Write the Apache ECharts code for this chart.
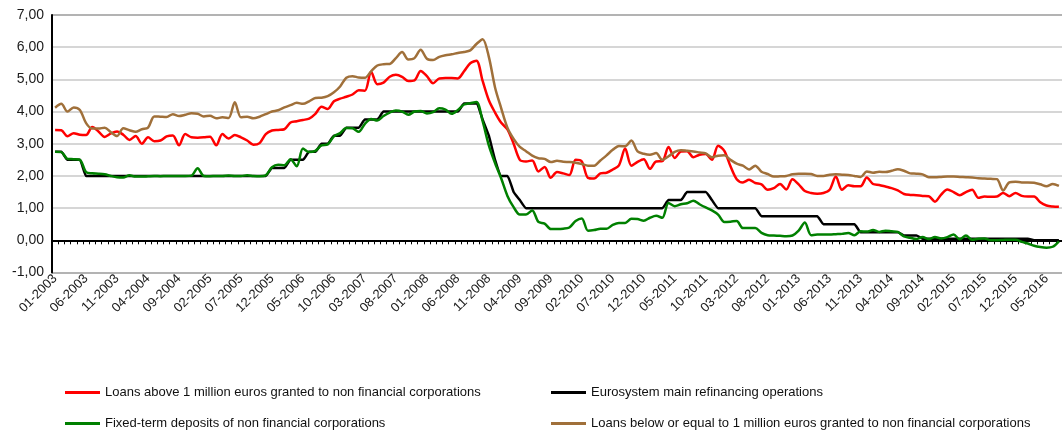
<!DOCTYPE html>
<html>
<head>
<meta charset="utf-8">
<script src="https://cdn.jsdelivr.net/npm/echarts@6/dist/echarts.min.js"></script>
<style>
  html, body { margin: 0; padding: 0; background: #fff; }
  #chart { width: 1062px; height: 430px; }
</style>
</head>
<body>
<div id="chart"></div>
<script>
// monthly categories, 01-2003 .. 07-2016
const firstYear = 2003;
const monthCount = 163;
const months = [];
for (let k = 0; k < monthCount; k++) {
  const m = (k % 12) + 1;
  months.push((m < 10 ? '0' : '') + m + '-' + (firstYear + Math.floor(k / 12)));
}

const seriesNames = [
  'Loans above 1 million euros granted to non financial corporations',
  'Eurosystem main refinancing operations',
  'Fixed-term deposits of non financial corporations',
  'Loans below or equal to 1 million euros granted to non financial corporations'
];

// loans > 1M EUR
const loansAbove = [
  3.43, 3.42, 3.23, 3.33, 3.28, 3.27, 3.52, 3.38, 3.21, 3.32,
  3.38, 3.28, 3.12, 3.24, 3.00, 3.20, 3.08, 3.10, 3.23, 3.26,
  2.95, 3.30, 3.20, 3.19, 3.20, 3.22, 2.95, 3.30, 3.16, 3.27,
  3.20, 3.10, 2.97, 3.02, 3.30, 3.41, 3.43, 3.45, 3.66, 3.70,
  3.74, 3.78, 3.93, 4.15, 4.08, 4.32, 4.40, 4.46, 4.53, 4.66,
  4.65, 5.24, 4.85, 4.90, 5.08, 5.14, 5.08, 4.95, 4.97, 5.26,
  5.10, 4.88, 5.03, 5.04, 5.04, 5.03, 5.25, 5.50, 5.58, 4.95,
  4.35, 3.97, 3.65, 3.45, 3.00, 2.50, 2.45, 2.48, 2.14, 2.28,
  1.94, 2.12, 2.08, 2.03, 2.50, 2.45, 1.94, 1.92, 2.08, 2.10,
  2.20, 2.33, 2.85, 2.32, 2.44, 2.52, 2.22, 2.45, 2.46, 2.90,
  2.56, 2.76, 2.77, 2.58, 2.66, 2.68, 2.50, 2.94, 2.78, 2.30,
  1.90, 1.80, 1.88, 1.78, 1.74, 1.57, 1.62, 1.75, 1.58, 1.90,
  1.74, 1.53, 1.47, 1.45, 1.47, 1.57, 1.98, 1.57, 1.71, 1.68,
  1.68, 1.95, 1.75, 1.72, 1.67, 1.62, 1.55, 1.44, 1.41, 1.40,
  1.38, 1.37, 1.20, 1.42, 1.58, 1.50, 1.40, 1.50, 1.57, 1.32,
  1.36, 1.35, 1.36, 1.47, 1.37, 1.47, 1.38, 1.36, 1.36, 1.18,
  1.08, 1.05, 1.04
];

// ECB main refinancing rate, end of month
const mroRate = [
  2.75, 2.75, 2.50, 2.50, 2.50, 2.00, 2.00, 2.00, 2.00, 2.00,
  2.00, 2.00, 2.00, 2.00, 2.00, 2.00, 2.00, 2.00, 2.00, 2.00,
  2.00, 2.00, 2.00, 2.00, 2.00, 2.00, 2.00, 2.00, 2.00, 2.00,
  2.00, 2.00, 2.00, 2.00, 2.00, 2.25, 2.25, 2.25, 2.50, 2.50,
  2.50, 2.75, 2.75, 3.00, 3.00, 3.25, 3.25, 3.50, 3.50, 3.50,
  3.75, 3.75, 3.75, 4.00, 4.00, 4.00, 4.00, 4.00, 4.00, 4.00,
  4.00, 4.00, 4.00, 4.00, 4.00, 4.00, 4.25, 4.25, 4.25, 3.75,
  3.25, 2.50, 2.00, 2.00, 1.50, 1.25, 1.00, 1.00, 1.00, 1.00,
  1.00, 1.00, 1.00, 1.00, 1.00, 1.00, 1.00, 1.00, 1.00, 1.00,
  1.00, 1.00, 1.00, 1.00, 1.00, 1.00, 1.00, 1.00, 1.00, 1.25,
  1.25, 1.25, 1.50, 1.50, 1.50, 1.50, 1.25, 1.00, 1.00, 1.00,
  1.00, 1.00, 1.00, 1.00, 0.75, 0.75, 0.75, 0.75, 0.75, 0.75,
  0.75, 0.75, 0.75, 0.75, 0.50, 0.50, 0.50, 0.50, 0.50, 0.50,
  0.25, 0.25, 0.25, 0.25, 0.25, 0.25, 0.25, 0.15, 0.15, 0.15,
  0.05, 0.05, 0.05, 0.05, 0.05, 0.05, 0.05, 0.05, 0.05, 0.05,
  0.05, 0.05, 0.05, 0.05, 0.05, 0.05, 0.05, 0.05, 0.00, 0.00,
  0.00, 0.00, 0.00
];

// fixed-term deposits
const deposits = [
  2.75, 2.74, 2.53, 2.52, 2.50, 2.12, 2.08, 2.07, 2.05, 2.00,
  1.96, 1.95, 2.02, 1.98, 1.98, 1.99, 2.00, 1.99, 2.00, 2.00,
  2.00, 2.00, 2.01, 2.24, 2.00, 1.99, 2.00, 2.00, 2.01, 2.00,
  2.00, 2.02, 2.00, 1.99, 2.02, 2.27, 2.35, 2.33, 2.52, 2.30,
  2.85, 2.74, 2.78, 2.95, 2.98, 3.23, 3.33, 3.49, 3.48, 3.37,
  3.62, 3.77, 3.72, 3.86, 3.97, 4.03, 4.00, 3.90, 4.00, 4.02,
  3.94, 3.98, 4.10, 4.06, 3.93, 4.05, 4.22, 4.26, 4.30, 3.70,
  2.95, 2.40, 1.92, 1.38, 1.03, 0.80, 0.80, 0.93, 0.57, 0.52,
  0.35, 0.35, 0.36, 0.40, 0.60, 0.68, 0.30, 0.32, 0.36, 0.36,
  0.48, 0.54, 0.54, 0.67, 0.66, 0.61, 0.70, 0.76, 0.70, 1.16,
  1.06, 1.12, 1.15, 1.23, 1.12, 1.02, 0.93, 0.80, 0.57, 0.58,
  0.60, 0.38, 0.38, 0.38, 0.23, 0.16, 0.15, 0.14, 0.13, 0.15,
  0.30, 0.55, 0.16, 0.18, 0.18, 0.18, 0.19, 0.20, 0.23, 0.16,
  0.28, 0.27, 0.32, 0.26, 0.30, 0.28, 0.26, 0.12, 0.08, 0.04,
  0.10, 0.04, 0.10, 0.06, 0.10, 0.18, 0.03, 0.15, 0.02, 0.05,
  0.06, 0.00, 0.00, 0.01, 0.02, 0.02, -0.05, -0.10, -0.17, -0.21,
  -0.23, -0.20, -0.03
];

// loans <= 1M EUR
const loansBelow = [
  4.12, 4.24, 4.00, 4.13, 4.05, 3.64, 3.47, 3.47, 3.50, 3.36,
  3.24, 3.48, 3.42, 3.37, 3.45, 3.50, 3.85, 3.84, 3.83, 3.92,
  3.86, 3.90, 3.95, 3.93, 3.85, 3.87, 3.79, 3.82, 3.80, 4.29,
  3.82, 3.84, 3.79, 3.84, 3.92, 4.00, 4.04, 4.13, 4.20, 4.27,
  4.24, 4.32, 4.42, 4.43, 4.48, 4.60, 4.78, 5.05, 5.10, 5.06,
  5.05, 5.25, 5.43, 5.47, 5.48, 5.66, 5.85, 5.62, 5.66, 5.92,
  5.64, 5.60, 5.70, 5.75, 5.78, 5.82, 5.85, 5.90, 6.10, 6.25,
  5.70, 4.75, 4.10, 3.50, 3.15, 2.90, 2.77, 2.63, 2.55, 2.53,
  2.43, 2.47, 2.44, 2.43, 2.41, 2.37, 2.32, 2.32, 2.48, 2.64,
  2.81, 2.93, 2.92, 3.10, 2.76, 2.69, 2.66, 2.71, 2.50, 2.61,
  2.75, 2.80, 2.78, 2.76, 2.73, 2.70, 2.58, 2.63, 2.64, 2.50,
  2.38, 2.32, 2.20, 2.32, 2.13, 2.06, 1.98, 1.99, 2.00, 2.05,
  2.07, 2.07, 2.06, 2.00, 2.00, 2.04, 2.05, 2.04, 2.03, 2.00,
  1.97, 2.14, 2.10, 2.13, 2.12, 2.16, 2.21, 2.16, 2.08, 2.07,
  2.05, 1.96, 1.96, 1.97, 1.98, 1.98, 1.97, 1.96, 1.95, 1.93,
  1.92, 1.91, 1.90, 1.55, 1.80, 1.82, 1.80, 1.80, 1.79, 1.74,
  1.68, 1.75, 1.69
];

const seriesData = [loansAbove, mroRate, deposits, loansBelow];
const seriesColors = ['#ff0000', '#000000', '#008000', '#a0703a'];
const seriesSmooth = [0.3, 0.15, 0.3, 0.3];

const chart = echarts.init(document.getElementById('chart'));

const legendFont = {
  fontFamily: "'Liberation Sans Narrow', 'Arial Narrow', Arial, sans-serif",
  fontSize: 13,
  color: '#111'
};
const legendPos = [
  { left: 65, top: 386 },
  { left: 551, top: 386 },
  { left: 65, top: 417 },
  { left: 551, top: 417 }
];

const option = {
  animation: false,
  backgroundColor: '#fff',
  grid: { left: 52, right: 0, top: 15, bottom: 157.5 },
  legend: seriesNames.map((name, i) => ({
    data: [name],
    left: legendPos[i].left,
    top: legendPos[i].top,
    padding: 0,
    icon: 'rect',
    itemWidth: 35,
    itemHeight: 3,
    textStyle: legendFont
  })),
  xAxis: [
    {
      type: 'category',
      data: months,
      position: 'bottom',
      axisLine: { show: false, onZero: false },
      axisTick: { show: false },
      axisLabel: {
        interval: 4,
        rotate: 45,
        margin: 4,
        fontSize: 13,
        fontFamily: 'Arial, Liberation Sans, sans-serif',
        color: '#1a1a1a'
      },
      splitLine: { show: false }
    },
    {
      // the black line on zero with its month ticks
      type: 'category',
      data: months,
      position: 'bottom',
      axisLine: { show: true, onZero: true, lineStyle: { color: '#000', width: 2 } },
      axisTick: { show: true, interval: 0, length: 4, lineStyle: { color: '#000', width: 1 } },
      axisLabel: { show: false },
      splitLine: { show: false }
    }
  ],
  yAxis: {
    type: 'value',
    min: -1,
    max: 7,
    interval: 1,
    axisLine: { show: true, lineStyle: { color: '#000', width: 2 } },
    axisTick: { show: false },
    axisLabel: {
      fontSize: 14,
      fontFamily: 'Arial, Liberation Sans, sans-serif',
      color: '#1a1a1a',
      margin: 8,
      formatter: v => v.toFixed(2).replace('.', ',')
    },
    splitLine: {
      show: true,
      lineStyle: {
        width: 1.5,
        color: ['#9a9a9a', '#c8c8c8', '#c8c8c8', '#c8c8c8', '#c8c8c8',
                '#c8c8c8', '#c8c8c8', '#c8c8c8', '#9a9a9a']
      }
    }
  },
  series: seriesNames.map((name, i) => ({
    name: name,
    type: 'line',
    data: seriesData[i],
    smooth: seriesSmooth[i],
    showSymbol: false,
    symbol: 'none',
    color: seriesColors[i],
    lineStyle: { color: seriesColors[i], width: 2.5 }
  }))
};

chart.setOption(option);
</script>
</body>
</html>
